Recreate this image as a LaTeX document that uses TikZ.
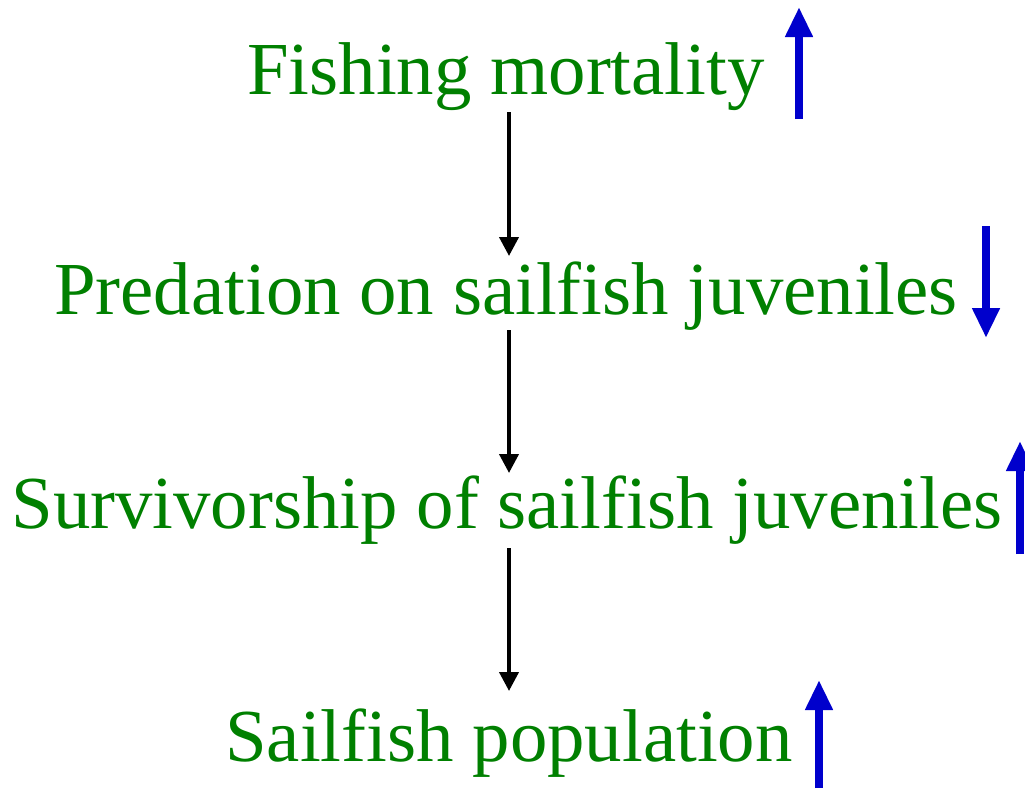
\documentclass[tikz,border=0pt]{standalone}
\usepackage{fontspec}
\setmainfont{Liberation Serif}
\usetikzlibrary{arrows.meta}
\definecolor{tgreen}{RGB}{0,128,0}
\definecolor{tblue}{RGB}{0,0,204}
\tikzset{
  lbl/.style={text=tgreen, font=\fontsize{74.8}{80}\selectfont, anchor=base, inner sep=0pt},
  flow/.style={draw=black, line width=4pt, -{Triangle[width=19pt,length=19pt]}},
  trend/.style={draw=tblue, line width=8pt, -{Triangle[width=26pt,length=30pt]}},
}
\begin{document}
\begin{tikzpicture}[x=1pt,y=-1pt]
\useasboundingbox (0,0) rectangle (1025,788);
\node[lbl] (fm) at (506,94) {Fishing mortality};
\node[lbl] (pr) at (506,314) {Predation on sailfish juveniles};
\node[lbl] (sv) at (507,528) {Survivorship of sailfish juveniles};
\node[lbl] (sp) at (509,761) {Sailfish population};
\coordinate (a1s) at (509,112); \coordinate (a1e) at (509,256);
\coordinate (a2s) at (509,330); \coordinate (a2e) at (509,473);
\coordinate (a3s) at (509,548); \coordinate (a3e) at (509,691);
\draw[flow] (a1s) -- (a1e);
\draw[flow] (a2s) -- (a2e);
\draw[flow] (a3s) -- (a3e);
\coordinate (b1s) at (799,119); \coordinate (b1e) at (799,7);
\coordinate (b2s) at (986,226); \coordinate (b2e) at (986,338);
\coordinate (b3s) at (1020,554); \coordinate (b3e) at (1020,441);
\coordinate (b4s) at (819,788); \coordinate (b4e) at (819,680);
\draw[trend] (b1s) -- (b1e);
\draw[trend] (b2s) -- (b2e);
\draw[trend] (b3s) -- (b3e);
\draw[trend] (b4s) -- (b4e);
\end{tikzpicture}
\end{document}
